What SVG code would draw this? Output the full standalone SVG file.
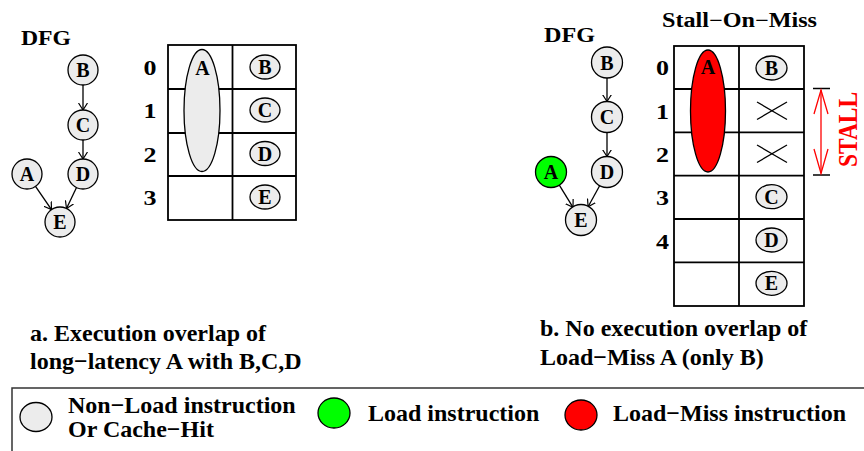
<svg xmlns="http://www.w3.org/2000/svg" width="864" height="451" viewBox="0 0 864 451">
<defs>
<marker id="arr" viewBox="0 -5 8 10" refX="7" refY="0" markerWidth="8" markerHeight="10" markerUnits="userSpaceOnUse" orient="auto">
<path d="M0,-4.5 L7,0 L0,4.5" fill="none" stroke="#000" stroke-width="1.2"/>
</marker>
</defs>
<style>
text{font-family:"Liberation Serif","Times New Roman",serif;font-weight:bold;fill:#000}
.n{fill:#ececec;stroke:#000;stroke-width:1.3}
.g{fill:#00ff00;stroke:#000;stroke-width:1.3}
.r{fill:#ff0000;stroke:#000;stroke-width:1.3}
.lt{font-size:20px;text-anchor:middle}
.dg{font-size:22px;text-anchor:middle}
.tb{fill:none;stroke:#000;stroke-width:1.8}
.e{stroke:#000;stroke-width:1.3;fill:none;marker-end:url(#arr)}
.cap{font-size:24px}
.x{stroke:#000;stroke-width:1.3}
</style>

<!-- Left panel -->
<text x="21" y="45" font-size="20" textLength="50" lengthAdjust="spacingAndGlyphs">DFG</text>
<g id="connectors-left">
<line class="e" x1="83" y1="85" x2="83" y2="110"/>
<line class="e" x1="83" y1="140" x2="83" y2="159"/>
<line class="e" x1="35.5" y1="186.4" x2="51.5" y2="209.6"/>
<line class="e" x1="76.5" y1="187.5" x2="66.5" y2="208.5"/>
</g>
<g id="L-B"><circle class="n" cx="83" cy="70" r="15"/><text class="lt" x="83" y="77">B</text></g>
<g id="L-C"><circle class="n" cx="83" cy="125" r="15"/><text class="lt" x="83" y="132">C</text></g>
<g id="L-D"><circle class="n" cx="83" cy="174" r="15"/><text class="lt" x="83" y="181">D</text></g>
<g id="L-A"><circle class="n" cx="27" cy="174" r="15"/><text class="lt" x="27" y="181">A</text></g>
<g id="L-E"><circle class="n" cx="60" cy="222" r="15"/><text class="lt" x="60" y="229">E</text></g>

<g id="L-table">
<rect class="tb" x="168" y="45" width="128" height="175"/>
<line class="tb" x1="232.5" y1="45" x2="232.5" y2="220"/>
<line class="tb" x1="168" y1="89" x2="296" y2="89"/>
<line class="tb" x1="168" y1="133" x2="296" y2="133"/>
<line class="tb" x1="168" y1="176" x2="296" y2="176"/>
<text class="dg" x="150" y="75" textLength="13" lengthAdjust="spacingAndGlyphs">0</text>
<text class="dg" x="150" y="118" textLength="13" lengthAdjust="spacingAndGlyphs">1</text>
<text class="dg" x="150" y="162" textLength="13" lengthAdjust="spacingAndGlyphs">2</text>
<text class="dg" x="150" y="205" textLength="13" lengthAdjust="spacingAndGlyphs">3</text>
<g id="L-tA"><ellipse class="n" cx="202" cy="110.5" rx="18" ry="61"/><text class="lt" x="202.5" y="75">A</text></g>
<g id="L-tB"><ellipse class="n" cx="265" cy="67" rx="15" ry="12"/><text class="lt" x="265" y="74">B</text></g>
<g id="L-tC"><ellipse class="n" cx="265" cy="110" rx="15" ry="12"/><text class="lt" x="265" y="117">C</text></g>
<g id="L-tD"><ellipse class="n" cx="265" cy="153.5" rx="15" ry="12"/><text class="lt" x="265" y="160.5">D</text></g>
<g id="L-tE"><ellipse class="n" cx="265" cy="197" rx="15" ry="12"/><text class="lt" x="265" y="204">E</text></g>
</g>

<text class="cap" x="30" y="341">a. Execution overlap of</text>
<text class="cap" x="30" y="369">long−latency A with B,C,D</text>

<!-- Right panel -->
<text x="544" y="42" font-size="20" textLength="51" lengthAdjust="spacingAndGlyphs">DFG</text>
<text x="662" y="27" font-size="20" textLength="155" lengthAdjust="spacingAndGlyphs">Stall−On−Miss</text>
<g id="connectors-right">
<line class="e" x1="607" y1="78" x2="607" y2="101.5"/>
<line class="e" x1="607" y1="132.5" x2="607" y2="156.5"/>
<line class="e" x1="559" y1="184.7" x2="573" y2="207.3"/>
<line class="e" x1="599.9" y1="185.2" x2="588.1" y2="206.8"/>
</g>
<g id="R-B"><circle class="n" cx="607" cy="62.5" r="15.5"/><text class="lt" x="607" y="69.5">B</text></g>
<g id="R-C"><circle class="n" cx="607" cy="117" r="15.5"/><text class="lt" x="607" y="124">C</text></g>
<g id="R-D"><circle class="n" cx="607" cy="172" r="15.5"/><text class="lt" x="607" y="179">D</text></g>
<g id="R-A"><circle class="g" cx="551" cy="172" r="15.5"/><text class="lt" x="551" y="179">A</text></g>
<g id="R-E"><circle class="n" cx="581" cy="220" r="15.5"/><text class="lt" x="581" y="227">E</text></g>

<g id="R-table">
<rect class="tb" x="674" y="46" width="130" height="260"/>
<line class="tb" x1="739" y1="46" x2="739" y2="306"/>
<line class="tb" x1="674" y1="89" x2="804" y2="89"/>
<line class="tb" x1="674" y1="132.3" x2="804" y2="132.3"/>
<line class="tb" x1="674" y1="175.7" x2="804" y2="175.7"/>
<line class="tb" x1="674" y1="219" x2="804" y2="219"/>
<line class="tb" x1="674" y1="262.3" x2="804" y2="262.3"/>
<text class="dg" x="662.5" y="75" textLength="13" lengthAdjust="spacingAndGlyphs">0</text>
<text class="dg" x="662.5" y="118.5" textLength="13" lengthAdjust="spacingAndGlyphs">1</text>
<text class="dg" x="662.5" y="162" textLength="13" lengthAdjust="spacingAndGlyphs">2</text>
<text class="dg" x="662.5" y="205" textLength="13" lengthAdjust="spacingAndGlyphs">3</text>
<text class="dg" x="662.5" y="248.5" textLength="13" lengthAdjust="spacingAndGlyphs">4</text>
<g id="R-tA"><ellipse class="r" cx="708" cy="111" rx="17.5" ry="61"/><text class="lt" x="708" y="74">A</text></g>
<g id="R-tB"><ellipse class="n" cx="771.5" cy="68" rx="15.5" ry="12"/><text class="lt" x="771.5" y="75">B</text></g>
<g id="R-x1"><line class="x" x1="757" y1="102" x2="787" y2="119.5"/><line class="x" x1="757" y1="119.5" x2="787" y2="102"/></g>
<g id="R-x2"><line class="x" x1="757" y1="145" x2="787" y2="162.5"/><line class="x" x1="757" y1="162.5" x2="787" y2="145"/></g>
<g id="R-tC"><ellipse class="n" cx="771.5" cy="196.7" rx="15.5" ry="12"/><text class="lt" x="771.5" y="203.7">C</text></g>
<g id="R-tD"><ellipse class="n" cx="771.5" cy="240" rx="15.5" ry="12"/><text class="lt" x="771.5" y="247">D</text></g>
<g id="R-tE"><ellipse class="n" cx="771.5" cy="283.3" rx="15.5" ry="12"/><text class="lt" x="771.5" y="290.3">E</text></g>
</g>

<g id="stall">
<line x1="813" y1="88.5" x2="830" y2="88.5" stroke="#000" stroke-width="1.5"/>
<line x1="813" y1="175" x2="830" y2="175" stroke="#000" stroke-width="1.5"/>
<line x1="821" y1="90" x2="821" y2="173.5" stroke="#ff0000" stroke-width="1.3"/>
<polyline points="814,114 821,90 828,114" fill="none" stroke="#ff0000" stroke-width="1.3"/>
<polyline points="814,149 821,173.5 828,149" fill="none" stroke="#ff0000" stroke-width="1.3"/>
<text x="857" y="129.5" font-size="28" text-anchor="middle" textLength="75" lengthAdjust="spacingAndGlyphs" transform="rotate(-90 857 129.5)" style="fill:#ff0000">STALL</text>
</g>

<text class="cap" x="540" y="336">b. No execution overlap of</text>
<text class="cap" x="540" y="365">Load−Miss A (only B)</text>

<!-- Legend -->
<g id="legend">
<rect x="12" y="388" width="870" height="80" fill="none" stroke="#333" stroke-width="1.5"/>
<ellipse class="n" cx="36" cy="417" rx="16" ry="14.5"/>
<text class="cap" x="68" y="413">Non−Load instruction</text>
<text class="cap" x="68" y="437">Or Cache−Hit</text>
<ellipse class="g" cx="334" cy="413" rx="16" ry="15"/>
<text class="cap" x="368" y="421">Load instruction</text>
<ellipse class="r" cx="581" cy="415" rx="16" ry="15"/>
<text class="cap" x="613" y="421">Load−Miss instruction</text>
</g>
</svg>
